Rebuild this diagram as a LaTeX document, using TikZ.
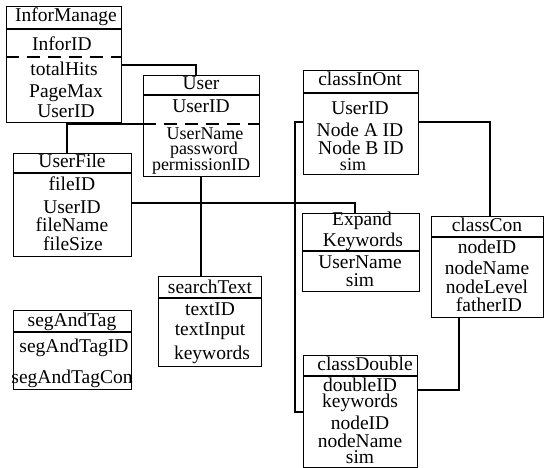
\documentclass[tikz,border=0pt]{standalone}
\usepackage{fontspec}
\setmainfont{Liberation Serif}
\tikzset{
  tbl/.style={draw, line width=1.3pt, inner sep=0pt, anchor=north west},
  txt/.style={anchor=base, inner sep=0pt, font=\fontsize{19.5}{20}\selectfont},
  tight/.style={font=\fontsize{18}{18}\selectfont},
  sep/.style={line width=1.3pt},
  dsep/.style={line width=1.3pt, dash pattern=on 13pt off 8pt},
  conn/.style={line width=1.3pt}
}
\begin{document}
\begin{tikzpicture}[x=1pt,y=-1pt]
\useasboundingbox (0,0) rectangle (544,468);
% boxes
\node[tbl, minimum width=115pt, minimum height=116pt] (inf) at (6,6) {};
\node[tbl, minimum width=116pt, minimum height=101pt] (user) at (143,75) {};
\node[tbl, minimum width=118pt, minimum height=103pt] (ufile) at (13,153) {};
\node[tbl, minimum width=115pt, minimum height=104pt] (cio) at (303,70) {};
\node[tbl, minimum width=117pt, minimum height=78pt] (exp) at (302,213) {};
\node[tbl, minimum width=112pt, minimum height=101pt] (ccon) at (431,216) {};
\node[tbl, minimum width=114pt, minimum height=112pt] (cdbl) at (303,355) {};
\node[tbl, minimum width=103pt, minimum height=90pt] (stext) at (158,276) {};
\node[tbl, minimum width=118pt, minimum height=79pt] (seg) at (13,310) {};
% separators
\draw[sep] (inf.west |- 0,29) -- (inf.east |- 0,29);
\draw[dsep] (inf.west |- 0,57) -- (inf.east |- 0,57);
\draw[sep] (user.west |- 0,95) -- (user.east |- 0,95);
\draw[dsep] (user.west |- 0,124) -- (user.east |- 0,124);
\draw[sep] (ufile.west |- 0,173) -- (ufile.east |- 0,173);
\draw[sep] (cio.west |- 0,93) -- (cio.east |- 0,93);
\draw[sep] (exp.west |- 0,251) -- (exp.east |- 0,251);
\draw[sep] (ccon.west |- 0,237) -- (ccon.east |- 0,237);
\draw[sep] (cdbl.west |- 0,376) -- (cdbl.east |- 0,376);
\draw[sep] (stext.west |- 0,298) -- (stext.east |- 0,298);
\draw[sep] (seg.west |- 0,332) -- (seg.east |- 0,332);
% texts InforManage
\node[txt] (inf-t) at (66,22) {InforManage};
\node[txt] (inf-1) at (62,50.5) {InforID};
\node[txt] (inf-2) at (64,76) {totalHits};
\node[txt] (inf-3) at (66,97.5) {PageMax};
\node[txt] (inf-4) at (66,118) {UserID};
% User
\node[txt] (user-t) at (201,90) {User};
\node[txt] (user-1) at (201,112.5) {UserID};
\node[txt, tight] (user-2) at (205,140) {UserName};
\node[txt, tight] (user-3) at (204,155) {password};
\node[txt, tight] (user-4) at (201,170.5) {permissionID};
% UserFile
\node[txt] (uf-t) at (72,168) {UserFile};
\node[txt] (uf-1) at (72,190.5) {fileID};
\node[txt] (uf-2) at (72,214) {UserID};
\node[txt] (uf-3) at (72,232) {fileName};
\node[txt] (uf-4) at (73,251) {fileSize};
% classInOnt
\node[txt] (cio-t) at (360,86) {classInOnt};
\node[txt] (cio-1) at (360,115) {UserID};
\node[txt] (cio-2) at (360,136.5) {Node A ID};
\node[txt] (cio-3) at (361,155) {Node B ID};
\node[txt, tight] (cio-4) at (353,171) {sim};
% Expand Keywords
\node[txt] (exp-t1) at (362,225.5) {Expand};
\node[txt] (exp-t2) at (363,246.5) {Keywords};
\node[txt] (exp-1) at (360,269) {UserName};
\node[txt] (exp-2) at (360,287) {sim};
% classCon
\node[txt] (ccon-t) at (487,232) {classCon};
\node[txt] (ccon-1) at (487,253) {nodeID};
\node[txt] (ccon-2) at (487,274) {nodeName};
\node[txt] (ccon-3) at (487,293) {nodeLevel};
\node[txt] (ccon-4) at (489,311) {fatherID};
% classDouble
\node[txt] (cd-t) at (365,370) {classDouble};
\node[txt] (cd-1) at (360,391.5) {doubleID};
\node[txt] (cd-2) at (360,407.5) {keywords};
\node[txt] (cd-3) at (360,429) {nodeID};
\node[txt] (cd-4) at (360,447.5) {nodeName};
\node[txt] (cd-5) at (360,463) {sim};
% searchText
\node[txt] (st-t) at (210,293) {searchText};
\node[txt] (st-1) at (210,315) {textID};
\node[txt] (st-2) at (210,335) {textInput};
\node[txt] (st-3) at (212,359) {keywords};
% segAndTag
\node[txt] (seg-t) at (72,326.5) {segAndTag};
\node[txt] (seg-1) at (74,352) {segAndTagID};
\node[txt] (seg-2) at (72,383) {segAndTagCon};
% connectors
\draw[conn] (inf.east |- 0,65) -| (user.north -| 196,0);
\draw[conn] (user.west |- 0,124) -| (ufile.north -| 67,0);
\draw[conn] (ufile.east |- 0,203) -| (exp.north -| 355,0);
\draw[conn] (user.south -| 201,0) -- (stext.north -| 201,0);
\draw[conn] (cio.west |- 0,122) -- (295,122) -- (295,412) -- (cdbl.west |- 0,412);
\draw[conn] (cio.east |- 0,122) -| (ccon.north -| 490,0);
\draw[conn] (ccon.south -| 459,0) |- (cdbl.east |- 0,390);
\end{tikzpicture}
\end{document}
